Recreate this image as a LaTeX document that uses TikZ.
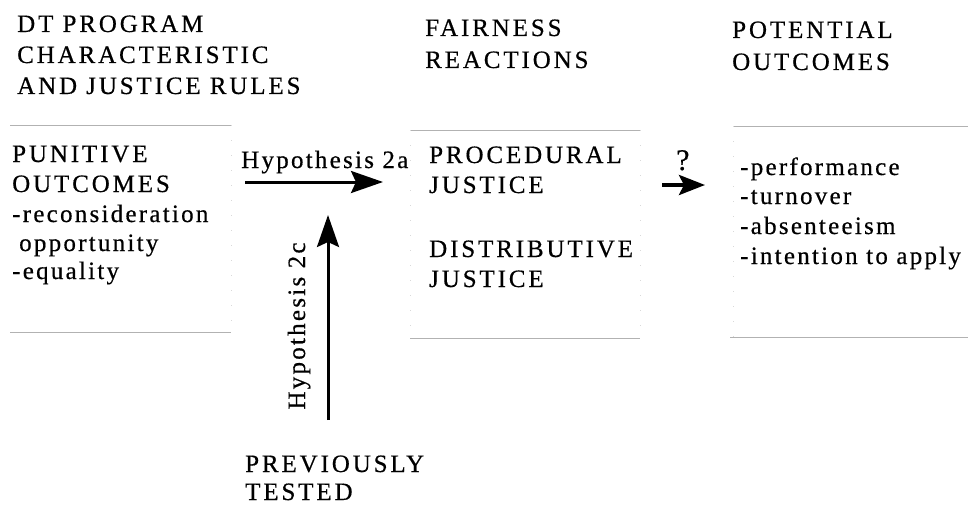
\documentclass[tikz,border=0pt]{standalone}
\usepackage{fontspec}
\setmainfont{Liberation Serif}[LetterSpace=9,FakeBold=0.5]
\newfontfamily\capsfont{Liberation Serif}[LetterSpace=11.5,FakeBold=0.5]
\usetikzlibrary{arrows.meta}
\begin{document}
\begin{tikzpicture}[x=1pt,y=-1pt,
  txt/.style={anchor=base west, inner sep=0pt, font=\fontsize{25}{29}\selectfont},
  captxt/.style={anchor=base west, inner sep=0pt, font=\capsfont\fontsize{25}{29}\selectfont},
  boxline/.style={draw=gray!60, line width=0.8pt},
  boxside/.style={draw=gray!30, line width=0.6pt, dash pattern=on 1pt off 14pt},
  arr/.style={line width=3pt, -{Stealth[length=32pt,width=22pt,inset=5pt]}},
  qarr/.style={line width=4pt, -{Stealth[length=26pt,width=20pt,inset=5pt]}}]
\useasboundingbox (0,0) rectangle (968,508);
% headers
\node[captxt] (h1a) at (17,32) {DT PROGRAM};
\node[captxt] (h1b) at (17,63) {CHARACTERISTIC};
\node[captxt] (h1c) at (17,94) {AND JUSTICE RULES};
\node[captxt] (h2a) at (425,36) {FAIRNESS};
\node[captxt] (h2b) at (425,68) {REACTIONS};
\node[captxt] (h3a) at (732,38) {POTENTIAL};
\node[captxt] (h3b) at (732,70) {OUTCOMES};
% boxes
\draw[boxline] (10,125) -- (231,125);
\draw[boxline] (10,332) -- (231,332);
\draw[boxside] (231,125) -- (231,332);
\draw[boxline] (410,130) -- (640,130);
\draw[boxline] (410,338) -- (640,338);
\draw[boxside] (410,130) -- (410,338);
\draw[boxside] (640,130) -- (640,338);
\draw[boxline] (733,126) -- (968,126);
\draw[boxline] (730,337) -- (968,337);
\draw[boxside] (733,126) -- (733,337);
% left box
\node[captxt] (l1) at (12,162) {PUNITIVE};
\node[captxt] (l2) at (12,192) {OUTCOMES};
\node[txt] (l3) at (12,222) {-reconsideration};
\node[txt] (l4) at (19,251) {opportunity};
\node[txt] (l5) at (12,279) {-equality};
% middle box
\node[captxt] (m1) at (429,163) {PROCEDURAL};
\node[captxt] (m2) at (429,193) {JUSTICE};
\node[captxt] (m3) at (429,257) {DISTRIBUTIVE};
\node[captxt] (m4) at (429,287) {JUSTICE};
% right box
\node[txt] (r1) at (740,175) {-performance};
\node[txt] (r2) at (740,204) {-turnover};
\node[txt] (r3) at (740,234) {-absenteeism};
\node[txt] (r4) at (740,264) {-intention to apply};
% hypothesis 2a
\node[txt] (hy2a) at (241,168) {Hypothesis 2a};
\coordinate (a2s) at (245,182);
\coordinate (a2e) at (383,182);
\draw[arr] (a2s) -- (a2e);
% hypothesis 2c
\coordinate (c2s) at (328,420);
\coordinate (c2e) at (328,215);
\draw[arr] (c2s) -- (c2e);
\node[anchor=base, inner sep=0pt, rotate=90, font=\fontsize{25}{29}\selectfont] (hy2c) at (305,326) {Hypothesis 2c};
% previously tested
\node[captxt] (p1) at (245,472) {PREVIOUSLY};
\node[captxt] (p2) at (245,500) {TESTED};
% question arrow
\node[anchor=base west, inner sep=0pt, font=\fontsize{30}{34}\selectfont] (q) at (676,170) {?};
\coordinate (qs) at (662,185);
\coordinate (qe) at (705,185);
\draw[qarr] (qs) -- (qe);
\end{tikzpicture}
\end{document}
